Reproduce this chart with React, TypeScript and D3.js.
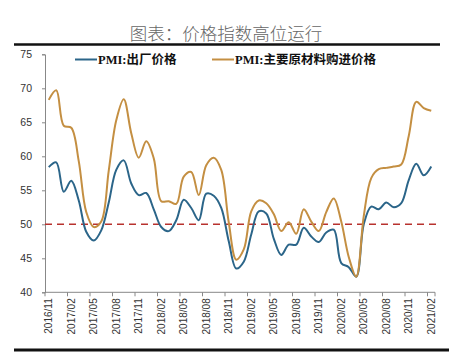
import React, { useEffect, useRef } from 'react';
import * as d3 from 'd3';

// months from 2016/11 to 2021/02
const months: string[] = [];
for (let y = 2016, m = 11; y < 2021 || (y === 2021 && m <= 2); m++) {
  if (m > 12) { m = 1; y++; }
  months.push(`${y}/${String(m).padStart(2, '0')}`);
}

const outputPrice = [
  58.4, 59.1, 54.8, 56.4, 53.5, 48.9, 47.6, 49.1, 53.2, 58.0, 59.4, 56.0,
  54.3, 54.6, 52.2, 49.6, 49.0, 50.6, 53.6, 52.4, 50.6, 54.5, 54.2, 52.4,
  47.5, 43.5, 44.5, 48.5, 51.9, 51.6, 47.9, 45.5, 47.0, 47.0, 49.5, 48.2,
  47.4, 48.8, 49.2, 44.3, 43.7, 42.3, 50.0, 52.6, 52.2, 53.2, 52.5, 53.1,
  56.5, 58.9, 57.2, 58.5,
];

const inputPrice = [
  68.3, 69.7, 64.5, 64.2, 59.3, 51.8, 49.6, 50.4, 57.9, 65.3, 68.4, 63.4,
  59.8, 62.2, 59.7, 53.4, 53.4, 53.0, 57.0, 57.7, 54.3, 58.7, 59.8, 58.0,
  50.3, 44.8, 46.3, 51.9, 53.5, 53.1, 51.5, 49.0, 50.3, 48.6, 52.2, 50.4,
  49.0, 51.8, 53.8, 50.4, 45.2, 42.3, 51.2, 56.8, 58.1, 58.3, 58.5, 58.8,
  63.0, 68.0, 67.1, 66.7,
];

const seriesNames = ['PMI:出厂价格', 'PMI:主要原材料购进价格'];
const seriesColors = ['#2b6589', '#c48f42'];
const yTicks = [40, 45, 50, 55, 60, 65, 70, 75];
const threshold = 50;

const App: React.FC = () => {
  const ref = useRef<SVGSVGElement | null>(null);

  useEffect(() => {
    const svg = d3.select(ref.current);
    svg.selectAll('*').remove();

    const W = 449, H = 353;
    svg.attr('width', W).attr('height', H);

    svg.append('rect').attr('width', W).attr('height', H).attr('fill', '#fff');

    // title
    svg.append('text')
      .attr('x', 226)
      .attr('y', 40)
      .attr('text-anchor', 'middle')
      .style('font-family', '"Noto Sans CJK SC", sans-serif')
      .style('font-weight', 300)
      .style('font-size', '17.5px')
      .style('fill', '#666')
      .text('图表：价格指数高位运行');

    // top & bottom rules
    svg.append('line').attr('x1', 14).attr('x2', 440).attr('y1', 44.5).attr('y2', 44.5)
      .attr('stroke', '#111').attr('stroke-width', 2.5);
    svg.append('line').attr('x1', 14).attr('x2', 449).attr('y1', 350).attr('y2', 350)
      .attr('stroke', '#111').attr('stroke-width', 3);

    const x = d3.scaleBand().domain(months).range([45, 435]);
    const cx = (d: string) => x(d)! + x.bandwidth() / 2;
    const y = d3.scaleLinear().domain([40, 75]).range([292.3, 54.3]);

    // y axis
    const yAxis = svg.append('g')
      .attr('transform', 'translate(45,0)')
      .call(d3.axisLeft(y).tickValues(yTicks).tickSize(3).tickPadding(10));
    yAxis.select('.domain').attr('stroke', '#888');
    yAxis.selectAll('.tick line').attr('stroke', '#888');
    yAxis.selectAll('.tick text')
      .style('font-family', '"Liberation Sans", Arial, sans-serif')
      .style('font-size', '10.5px')
      .attr('fill', '#333');

    // x axis: ticks at category boundaries every 3 months, labels at centres
    const xg = svg.append('g').attr('transform', 'translate(0,292.3)');
    xg.append('line').attr('x1', 45).attr('x2', 435).attr('stroke', '#888');
    const labelled = months.filter((_, i) => i % 3 === 0);
    xg.selectAll('line.tk')
      .data(labelled)
      .enter().append('line')
      .attr('class', 'tk')
      .attr('x1', d => x(d)!).attr('x2', d => x(d)!)
      .attr('y1', 0).attr('y2', 4)
      .attr('stroke', '#888');
    xg.append('line').attr('x1', 435).attr('x2', 435).attr('y1', 0).attr('y2', 4).attr('stroke', '#888');
    xg.selectAll('text')
      .data(labelled)
      .enter().append('text')
      .attr('transform', d => `translate(${cx(d) + 3.5},6) rotate(-90)`)
      .attr('text-anchor', 'end')
      .style('font-family', '"Liberation Sans", Arial, sans-serif')
      .style('font-size', '10px')
      .attr('fill', '#333')
      .text(d => d);

    // 50 reference line
    svg.append('line')
      .attr('x1', 45).attr('x2', 440)
      .attr('y1', y(threshold)).attr('y2', y(threshold))
      .attr('stroke', '#b8322e')
      .attr('stroke-width', 1.6)
      .attr('stroke-dasharray', '7,5');

    const line = d3.line<number>()
      .x((_, i) => cx(months[i]))
      .y(d => y(d))
      .curve(d3.curveCatmullRom.alpha(0.5));

    [outputPrice, inputPrice].forEach((vals, k) => {
      svg.append('path')
        .datum(vals)
        .attr('d', line)
        .attr('fill', 'none')
        .attr('stroke', seriesColors[k])
        .attr('stroke-width', 2);
    });

    // legend
    const legendX = [75, 212];
    seriesNames.forEach((name, k) => {
      svg.append('line')
        .attr('x1', legendX[k]).attr('x2', legendX[k] + 22)
        .attr('y1', 59.5).attr('y2', 59.5)
        .attr('stroke', seriesColors[k]).attr('stroke-width', 2);
      svg.append('text')
        .attr('x', legendX[k] + 23)
        .attr('y', 64)
        .style('font-family', '"Liberation Serif", "Noto Sans CJK SC", serif')
        .style('font-weight', 'bold')
        .style('font-size', '12.5px')
        .attr('fill', '#111')
        .text(name);
    });
  }, []);

  return (
    <div style={{ position: 'absolute', left: 0, top: 0 }}>
      <svg ref={ref}></svg>
    </div>
  );
};

export default App;
